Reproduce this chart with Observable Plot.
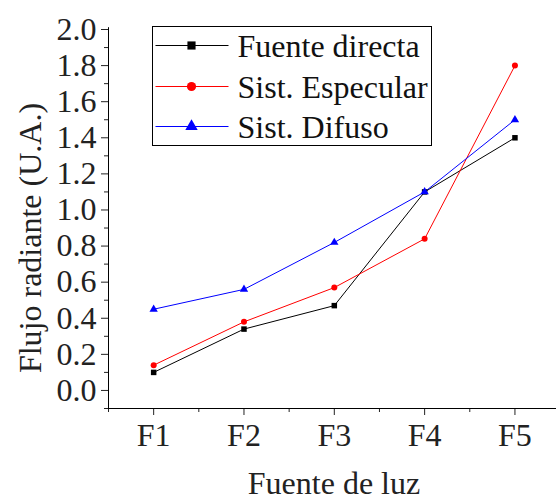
<!DOCTYPE html>
<html>
<head>
<meta charset="utf-8">
<script src="https://cdn.jsdelivr.net/npm/d3@7"></script>
<script src="https://cdn.jsdelivr.net/npm/@observablehq/plot@0.6"></script>
<style>
  html, body { margin: 0; padding: 0; background: #fff; }
</style>
</head>
<body>
<div id="chart"></div>
<script>
const sources = ["F1", "F2", "F3", "F4", "F5"];
const fuenteDirecta = [0.10, 0.34, 0.47, 1.10, 1.40];
const sistEspecular = [0.14, 0.38, 0.57, 0.84, 1.80];
const sistDifuso = [0.45, 0.56, 0.82, 1.10, 1.50];
const seriesNames = ["Fuente directa", "Sist. Especular", "Sist. Difuso"];
const seriesColors = ["#000000", "#ff0000", "#0000ff"];
const seriesSymbols = ["square", "circle", "triangle"];
const yMajorTicks = [0.0, 0.2, 0.4, 0.6, 0.8, 1.0, 1.2, 1.4, 1.6, 1.8, 2.0];
const yMinorTicks = [-0.1, 0.1, 0.3, 0.5, 0.7, 0.9, 1.1, 1.3, 1.5, 1.7, 1.9];
const xTitle = "Fuente de luz";
const yTitle = "Flujo radiante (U.A.)";

const seriesValues = [fuenteDirecta, sistEspecular, sistDifuso];
const data = [];
seriesValues.forEach((vals, s) => {
  vals.forEach((v, i) => data.push({series: seriesNames[s], x: i + 1, y: v}));
});
const xMinorTicks = sources.map((_, i) => i + 0.5);

const fontFamily = "'Liberation Serif', serif";

const plot = Plot.plot({
  width: 556,
  height: 500,
  marginLeft: 108,
  marginRight: 0,
  marginTop: 29,
  marginBottom: 92,
  style: {fontFamily, fontSize: "32px", color: "#222", background: "#fff"},
  x: {type: "linear", domain: [0.5, 5.46]},
  y: {domain: [-0.1, 2.0]},
  color: {domain: seriesNames, range: seriesColors},
  symbol: {domain: seriesNames, range: seriesSymbols},
  marks: [
    Plot.axisY({ticks: yMajorTicks, tickSize: 7, tickPadding: 5, tickFormat: d3.format(".1f"), label: null, fontSize: 32}),
    Plot.axisY({ticks: yMinorTicks, tickSize: 4, tickFormat: () => "", label: null}),
    Plot.axisX({ticks: sources.map((_, i) => i + 1), tickSize: 7, tickPadding: 8, tickFormat: d => sources[d - 1], label: null, fontSize: 32}),
    Plot.axisX({ticks: xMinorTicks, tickSize: 4, tickFormat: () => "", label: null}),
    Plot.ruleX([0.5], {y1: -0.1, y2: 2.01, stroke: "#000"}),
    Plot.ruleY([-0.1], {x1: 0.5, x2: 5.46, stroke: "#000"}),
    Plot.line(data, {x: "x", y: "y", z: "series", stroke: "series", strokeWidth: 1}),
    Plot.dot(data, {x: "x", y: "y", fill: "series", symbol: "series", r: d => d.series === "Sist. Especular" ? 4.3 : 4.6, stroke: "none"})
  ]
});
document.getElementById("chart").appendChild(plot);

const svg = d3.select(plot);
// axis titles
svg.append("text")
  .attr("transform", "translate(41,238) rotate(-90)")
  .attr("text-anchor", "middle")
  .attr("font-family", fontFamily).attr("font-size", 32).attr("fill", "#222")
  .text(yTitle);
svg.append("text")
  .attr("x", 334).attr("y", 494)
  .attr("text-anchor", "middle")
  .attr("font-family", fontFamily).attr("font-size", 32).attr("fill", "#222")
  .text(xTitle);

// legend
const lg = svg.append("g").attr("transform", "translate(152.5,26.5)");
lg.append("rect").attr("width", 279).attr("height", 119).attr("fill", "#fff").attr("stroke", "#000");
const rowY = [19, 60, 100];
seriesNames.forEach((name, i) => {
  const g = lg.append("g").attr("transform", `translate(0,${rowY[i]})`);
  g.append("line").attr("x1", 3).attr("x2", 76).attr("stroke", seriesColors[i]).attr("stroke-width", 1);
  const symType = d3["symbol" + seriesSymbols[i][0].toUpperCase() + seriesSymbols[i].slice(1)];
  g.append("path").attr("d", d3.symbol(symType, Math.PI * 4.6 * 4.6)()).attr("transform", "translate(39,0)").attr("fill", seriesColors[i]);
  g.append("text").attr("x", 85).attr("y", 11)
    .attr("text-anchor", "start")
    .attr("font-family", fontFamily).attr("font-size", 32).attr("fill", "#111")
    .text(name);
});
</script>
</body>
</html>
